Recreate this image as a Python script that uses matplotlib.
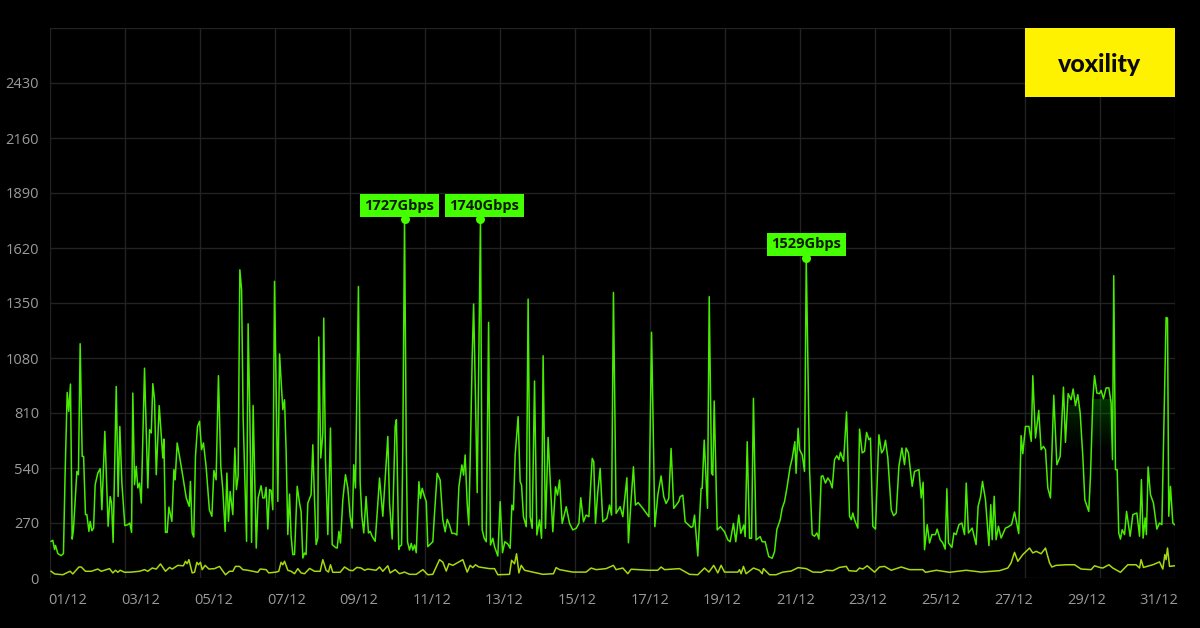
import numpy as np
import matplotlib.pyplot as plt

plt.rcParams['font.family'] = ['Open Sans', 'DejaVu Sans']

# hours since 01/12 00:00, gbps
peak_hours = [.7,1.8,2.9,3.5,5,7.1,8.6,9.7,11,12,13.1,14.2,15,17.2,18.2,19.3,20.6,21.5,22.7,23.6,24.9,25.7,26.8,27.9,28.9,30.6,32.1,33.2,35.1,37.2,38.5,39.4,40.4,42.4,43.6,44.7,46,47.9,49.8,51.1,52.2,53,54.1,55.2,56.2,57.3,58.4,60.5,62.6,63.7,64.8,65.8,66.9,68,69.9,72.2,72.9,73.9,75,76.1,78,79.3,80.1,81.4,82.9,85,87.2,89.1,89.9,91,92,93.1,94.4,95.7,97,98.2,99.9,102,103.6,104.9,106.3,107.8,109.3,110.6,112.1,113.2,114.2,115.3,117,118.3,119.3,120.4,121.5,122.6,123.6,125.8,126.8,127.9,129,130,132,133.2,135.1,136.2,137.3,138.3,139.4,140.5,141.5,142.6,143.7,145.8,146.9,149,150.1,151.1,152.2,153.3,154.3,155.4,156.5,158.2,159.7,160.7,161.8,162.9,163.9,165,167.1,168.2,169.3,170.3,171.4,172,173.3,174.6,175.2,176.3,177.8,179.5,180.6,182.7,183.8,184.9,185.9,187.4,189.1,190.6,192.1,193.4,194.4,195.5,197.4,198.5,199.6,200.8,202.3,203.8,204.9,206.2,208.1,209.4,210.9,213,216.2,217.3,219,220.9,221.7,223.2,
    223.7,225,225.8,226.9,228,228.8,230.1,231.2,232.2,233.3,234.4,236.1,237.1,238.2,239.7,240.8,241.8,244,245,246.1,247.8,249.7,251.4,252.9,254.2,255.7,257.2,258.9,260.4,261.7,263.6,264.7,265.7,267,268,269.1,270.2,271.1,272.3,273.4,274.5,275.5,276.6,277.9,279.2,280.7,281.9,283.4,284.5,286.6,288.1,289.6,291.1,293,294.5,295.6,296.6,297.7,299.6,300.9,301.8,303,304.8,306,307.3,308.6,310.1,311.6,313.3,314.6,315.6,317.1,318.8,320.1,321.8,323.5,324.8,326.1,327.8,330.4,332.5,334.6,336.8,338.5,339.7,341.4,343.1,344.9,347,348,349.1,350.6,352.1,353.8,356.4,358.1,359.4,360.6,362.3,364.9,366.6,369.2,370.2,371.9,373.4,374.7,376.4,379.4,383.3,385,387.1,389,391.1,392.8,394.3,396,397.5,399.2,402.4,403.3,405,406.5,410.3,411.4,412.5,414.6,416.7,417.4,418.7,420.8,421.9,423.4,424.2,425.1,427,429,431.7,433.8,435.3,437.4,438.9,440.8,442.1,444,444.9,446.2,447.7,449,450.2,451.9,454.5,455.8,457.7,460,462.2,463.7,465.2,467.3,468.6,470.1,471.6,473.7,475,476.7,477.5,478.8,
    479.7,481.4,482.9,484,486.1,487.8,489.3,490.8,492.1,493.6,494.6,496.3,497.8,499.3,500.6,502.1,503.6,504.9,505.9,507.9,509.8,511.7,512.8,513.8,514.9,517,518.1,519.8,521.3,522.6,524.1,525.1,526.6,528.3,530.5,532.2,533.5,534.7,536.2,538.4,539.9,541.6,543.3,545.2,546.9,547.9,549.4,551.8,553.3,554.8,556.1,557.6,558.8,559.7,561.4,562.9,564.4,566.7,567.8,569.7,571.4,572.9,574,575,577.2,578.5,579.9,581.7,583.6,585.3,586.4,587.8,590.2,592.7,594,595.5,596.8,598.7,600.9,602.1,603,604.3,605.5,607,608.7,611.5,613,615.4,617.3,620,621.5,622.6,624.3,626.5,628,629,630.7,632.8,634.3,635.8,637.1,638.6,640.3,642.4,644.4,646.5,648.6,649.9,651.6,653.5,654.8,656.3,657.8,659.3,661,662.3,664.8,665.9,667.4,668.5,670,671.7,672.7,674.2,675.9,677.7,679.1,680,680.8,681.9,683,684,685.1,686.2,687.7,689,691.3,693,695.6,697.3,698.5,699.6,700.9,701.7,702.8,704.3,706.2,708.4,710.1,711.6,712.6,714.3,715.2,716,717.1,718.6,719.7]
peak_gbps = [180,185,140,160,120,110,120,520,911,818,952,191,237,523,507,1150,597,597,311,311,229,278,232,245,458,515,537,335,720,254,400,368,175,940,400,744,466,257,262,270,224,908,458,548,442,466,368,1030,442,728,712,954,875,507,846,589,682,224,224,348,278,532,482,663,597,500,393,352,474,221,201,597,744,769,630,663,548,335,303,528,482,993,548,434,229,515,278,425,311,638,434,500,1513,1415,793,180,1248,793,175,847,147,393,453,393,393,445,240,434,430,335,1456,376,1100,826,875,630,213,412,205,115,115,450,368,327,98,123,115,368,409,654,384,164,196,1183,589,712,1276,580,213,736,164,150,147,229,172,384,507,442,303,245,556,442,1431,470,303,221,400,221,229,204,180,319,491,303,695,368,191,744,777,140,
    154,162,645,1760,645,178,137,170,137,162,124,473,391,440,399,375,154,170,178,317,514,481,285,227,288,260,219,219,211,448,555,505,604,366,260,645,1086,1345,890,419,1135,1760,236,195,178,1255,162,195,154,108,375,124,178,167,146,358,334,604,792,473,456,301,252,1369,301,244,967,211,285,195,1091,244,690,481,227,448,407,481,268,350,268,236,244,268,394,276,309,301,587,571,268,424,538,276,293,358,309,1402,317,350,301,492,173,383,546,358,370,342,301,1206,252,407,501,399,366,391,636,342,375,399,407,276,249,252,309,108,440,440,677,342,1381,514,505,869,236,252,227,187,178,268,178,309,219,260,203,669,195,195,882,187,203,178,178,105,97,129,239,285,342,375,440,546,587,669,514,735,
    630,605,523,1570,532,213,205,221,191,499,502,466,491,474,442,581,600,581,617,573,815,303,286,319,286,245,731,614,622,715,679,687,254,240,703,614,630,676,589,335,306,319,548,638,556,638,614,450,523,528,532,393,470,139,262,172,213,213,240,188,172,142,438,172,150,221,213,262,270,213,466,221,245,164,352,397,474,384,159,360,188,401,188,254,196,245,250,262,324,218,699,610,744,744,671,993,687,823,630,646,630,442,393,897,556,597,937,666,905,875,928,846,900,810,597,384,327,499,875,993,908,905,921,880,933,933,859,581,1484,532,532,221,191,237,213,327,205,311,319,205,483,196,295,213,545,409,368,240,270,262,646,1279,1276,303,450,270,262]

base_hours = [.7,2.9,8.2,11.4,12.9,14.6,18.5,20,22.7,26.4,30.6,32.8,38.1,40.2,41.9,43.4,44.9,47.7,52,57.3,60.5,62.6,65.4,68,70.7,73.9,76.5,78.2,81.8,85.4,86.7,87.8,88.9,91,92.5,94,95,96.3,97.4,99.3,101.7,105.3,108.5,112.3,114.9,117,118.7,121.3,123.4,126.6,129.8,133,134.5,138.3,140,144.7,146.4,147.9,149,150.1,152.2,154.3,156.5,158.6,160.7,162.9,166.1,169.3,172.9,174.6,176.7,178.2,179.5,181,185.7,188.5,191.7,193.8,196.4,199.1,201.3,203.4,208.7,210.9,213,216.2,217.7,220.9,
    223.7,226.9,230.1,234.4,238.6,241.8,245,249.3,251.4,253.6,255.3,257.8,264.2,267,268.9,270.6,272.3,274.5,281.3,284.5,286.6,294.1,295.4,297.3,298.6,300.1,301.6,303.7,309,315.4,322.2,323.9,326.1,334.6,343.1,346.3,349.5,355.9,360.6,362.3,366.6,369.8,371.9,383.7,389,391.1,393.3,402.9,409.3,414.6,418.9,421.7,424.8,427.4,429.5,431.7,440.2,441.3,442.3,443.8,445.5,450.2,454,455.8,456.6,460.5,464.7,469,474.3,478.8,
    484,488.2,493.6,496.8,501,505.3,509.6,511.3,516,518.1,520.2,523,527.7,530.9,534.1,538.4,544.8,550.1,558.6,560.3,567.2,575.7,586.4,596,607.7,613,615.1,617.3,619.4,622.6,626.9,629,631.2,634.3,637.1,639.7,641.2,643.9,650.3,655.7,659.9,666.3,668.5,671.7,673.8,677.7,680.2,685.1,689.8,695.1,697.3,698.3,699.8,705.8,710.1,712.2,713.5,714.3,715.2,716.5,719.7]
base_gbps = [33,20,16,28,33,20,54,54,33,33,44,33,46,25,38,28,38,28,29,33,41,33,49,44,69,33,52,44,62,60,82,70,90,25,28,77,65,77,41,62,44,46,57,16,33,33,57,57,41,38,33,28,44,41,25,29,33,77,65,82,38,33,21,46,25,21,47,33,33,90,38,29,65,28,28,54,38,36,52,49,38,44,38,54,33,60,25,41,
    21,29,18,18,41,16,18,90,78,34,70,62,90,29,62,51,65,54,46,46,16,18,87,70,119,25,62,38,29,18,21,51,41,29,29,49,41,46,62,41,49,21,43,38,38,54,41,46,18,16,49,29,62,25,62,29,29,41,21,57,21,49,38,21,46,16,16,29,34,51,
    46,29,28,38,36,52,57,36,33,49,44,60,29,54,57,38,54,41,41,28,38,28,38,29,36,49,74,126,82,115,147,123,131,119,147,74,54,62,65,65,44,41,60,52,49,65,49,28,65,65,49,90,52,65,79,44,115,90,147,57,60]

y_ticks = [0, 270, 540, 810, 1080, 1350, 1620, 1890, 2160, 2430]
date_labels = ['01/12','03/12','05/12','07/12','09/12','11/12','13/12','15/12','17/12','19/12','21/12','23/12','25/12','27/12','29/12','31/12']

# annotated spikes: hour, drawn height, text
note_hours = [226.9, 275.5, 484]
note_y = [1760, 1760, 1570]
note_text = ['1727Gbps', '1740Gbps', '1529Gbps']
note_dx = [-3.6, 2.9, 0]

green = '#47ec00'
fig = plt.figure(figsize=(12, 6.28), dpi=100, facecolor='black')
ax = fig.add_axes([50/1200, 50/628, 1125/1200, 550/628], facecolor='black')

ax.plot(base_hours, base_gbps, color='#a6d90f', lw=1.1, zorder=3)
ax.plot(peak_hours, peak_gbps, color=green, lw=1.1, zorder=4)

# faint hover glow under the flat tops around 28-29/12
glow = np.zeros((40, 1, 4))
glow[..., 1] = 0.75
glow[:, 0, 3] = np.linspace(0, 0.28, 40)
ax.imshow(glow, extent=(667, 680, 620, 880), aspect='auto', zorder=2, origin='lower', interpolation='bilinear')
ax.imshow(glow * [1, 1, 1, 0.6], extent=(652, 658, 620, 850), aspect='auto', zorder=2, origin='lower', interpolation='bilinear')

ax.set_xlim(0, 720)
ax.set_ylim(0, 2700)
ax.set_xticks(np.arange(0, 721, 48))
ax.set_xticklabels([])
ax.set_yticks(y_ticks + [2700])
ax.set_yticklabels([str(v) for v in y_ticks] + [''])
ax.tick_params(length=0, colors='#9a9a9a', labelsize=10.5, pad=8)
ax.grid(color='#222222', lw=1)
ax.set_axisbelow(True)
for s in ax.spines.values():
    s.set_visible(False)

# date labels are spread evenly and do not sit on the grid lines
for lab, xp in zip(date_labels, np.linspace(68, 1159, len(date_labels))):
    fig.text(xp/1200, 1 - 600/628, lab, color='#9a9a9a', fontsize=10.5, ha='center', va='center')

for h, v, t, dx in zip(note_hours, note_y, note_text, note_dx):
    ax.plot([h], [v], 'o', color='#44ff00', ms=6.5, mew=0, zorder=5)
    ax.annotate(t, (h, v), xytext=(dx, 10), textcoords='offset points', ha='center', va='center',
                fontsize=10.5, fontweight='bold', color='#0a1a00', zorder=6,
                bbox=dict(boxstyle='square,pad=0.3', fc='#44ff00', ec='none'))

# logo block
ax.axvspan(624, 720, ymin=1 - 69/550, ymax=1, color='#fff200', lw=0, zorder=6)
ax.text(672, 2700 - 36/55*270, 'voxility', color='#0a0a0a', fontsize=18, fontweight='black',
        family='Lato', ha='center', va='center', zorder=7)

ax.set_xlim(0, 720)
ax.set_ylim(0, 2700)
fig.savefig('out.png', dpi=100, facecolor='black')
